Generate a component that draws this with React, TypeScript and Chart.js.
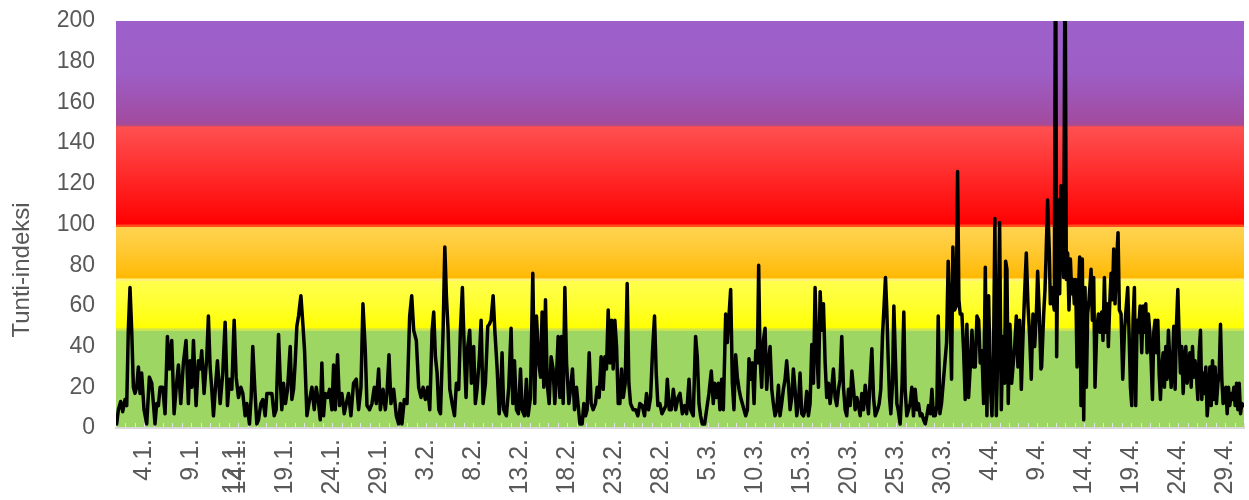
import React, { useEffect, useRef } from "react";
import { Chart, registerables } from "chart.js";

Chart.register(...registerables);

// Time of each sample, in days after 1.1. 00:00
const dayOffsets: number[] = [
  0.07, 0.25, 0.5, 0.71, 0.96, 1.14, 1.31, 1.49, 1.67, 1.85, 2.02, 2.2, 2.38, 2.56, 2.73, 2.98, 3.27, 3.55, 3.8, 3.98,
  4.15, 4.33, 4.51, 4.69, 4.97, 5.22, 5.47, 5.68, 5.93, 6.18, 6.39, 6.64, 6.89, 7.17, 7.45, 7.7, 7.88, 8.06, 8.24, 8.52,
  8.77, 8.95, 9.12, 9.37, 9.66, 9.83, 10.01, 10.19, 10.37, 10.58, 10.79, 11.08, 11.36, 11.61, 11.86, 12.07, 12.32, 12.57, 12.78, 13.03,
  13.28, 13.49, 13.74, 13.92, 14.2, 14.38, 14.55, 14.77, 14.98, 15.16, 15.41, 15.62, 15.87, 16.05, 16.33, 16.58, 16.83, 17.04, 17.29, 17.47,
  17.64, 17.82, 18.03, 18.25, 18.53, 18.71, 18.89, 19.06, 19.24, 19.42, 19.67, 19.88, 20.06, 20.31, 20.52,
  20.84, 21.09, 21.3, 21.55, 21.73, 21.9, 22.08, 22.26, 22.51, 22.72, 22.97, 23.15, 23.32, 23.57, 23.78, 24.03, 24.28, 24.49, 24.74, 24.99,
  25.27, 25.56, 25.81, 26.06, 26.27, 26.52, 26.7, 26.98, 27.23, 27.48, 27.69, 27.94, 28.12, 28.41, 28.65, 28.83, 29.04, 29.25, 29.54, 29.82,
  30.07, 30.25, 30.42, 30.67, 30.96, 31.24, 31.46, 31.67, 31.95, 32.2, 32.45, 32.67, 32.91, 33.16, 33.38, 33.63, 33.8, 33.98, 34.16, 34.34,
  34.52, 34.8, 34.98, 35.15, 35.33, 35.51, 35.76, 36.01, 36.21, 36.46, 36.64, 36.85, 37.07, 37.24, 37.42, 37.63, 37.81, 38.05, 38.23, 38.41,
  38.66, 38.84, 39.05, 39.3, 39.55, 39.72, 39.9, 40.12, 40.3, 40.55, 40.76,
  40.9, 41.07, 41.25, 41.53, 41.78, 42.03, 42.21, 42.39, 42.6, 42.81, 43.03, 43.2, 43.45, 43.66, 43.84, 44.09, 44.34, 44.55, 44.73, 44.98,
  45.16, 45.33, 45.51, 45.69, 45.87, 46.08, 46.29, 46.5, 46.68, 46.86, 47.04, 47.22, 47.39, 47.57, 47.75, 47.93, 48.18, 48.35, 48.56, 48.78,
  48.99, 49.17, 49.35, 49.59, 49.77, 49.95, 50.12, 50.34, 50.55, 50.76, 51.01, 51.19, 51.4, 51.61, 51.83, 52.01, 52.18, 52.36, 52.54, 52.72,
  52.89, 53.07, 53.25, 53.43, 53.6, 53.78, 53.96, 54.17, 54.38, 54.56, 54.74, 55.02, 55.27, 55.52, 55.73, 55.98, 56.23, 56.44, 56.66, 56.87,
  57.08, 57.29, 57.47, 57.65, 57.86, 58.08, 58.29, 58.5, 58.65, 58.86, 59.07, 59.29, 59.54, 59.79, 60.0, 60.25, 60.5, 60.71, 60.96,
  61.13, 61.41, 61.66, 61.84, 62.02, 62.19, 62.37, 62.62, 62.83, 63.08, 63.33, 63.54, 63.68, 63.9, 64.07, 64.25, 64.43, 64.61, 64.86, 65.03,
  65.21, 65.39, 65.57, 65.74, 65.92, 66.1, 66.28, 66.45, 66.63, 66.81, 66.99, 67.17, 67.34, 67.52, 67.7, 67.88, 68.06, 68.23, 68.37, 68.51,
  68.69, 68.87, 69.05, 69.22, 69.4, 69.58, 69.76, 69.93, 70.11, 70.29, 70.47, 70.64, 70.82, 71.0, 71.18, 71.35, 71.53, 71.71, 71.89, 72.06,
  72.24, 72.42, 72.6, 72.77, 72.95, 73.13, 73.31, 73.48, 73.66, 73.84, 74.02, 74.2, 74.37, 74.55, 74.73, 74.91, 75.08, 75.26, 75.44, 75.61,
  75.79, 75.97, 76.15, 76.32, 76.5, 76.68, 76.86, 77.03, 77.21, 77.39, 77.57, 77.74, 77.92, 78.1, 78.28, 78.46, 78.63, 78.81, 78.99, 79.17,
  79.34, 79.52, 79.7, 79.88, 80.05, 80.23, 80.41, 80.59, 80.77, 81.02, 81.19,
  81.36, 81.54, 81.72, 81.86, 82.0, 82.14, 82.29, 82.43, 82.61, 82.75, 82.89, 83.07, 83.21, 83.42, 83.63, 83.81, 83.95, 84.13, 84.31, 84.49,
  84.66, 84.84, 85.02, 85.2, 85.37, 85.55, 85.73, 85.91, 86.09, 86.26, 86.44, 86.62, 86.8, 86.97, 87.15, 87.33, 87.47, 87.65, 87.82, 88.0,
  88.18, 88.36, 88.53, 88.71, 88.89, 89.03, 89.21, 89.39, 89.53, 89.67, 89.81, 89.99, 90.17, 90.34, 90.52, 90.7, 90.88, 91.06, 91.23, 91.41,
  91.59, 91.77, 91.94, 92.12, 92.3, 92.48, 92.65, 92.83, 93.01, 93.19, 93.36, 93.5, 93.65, 93.82, 94.0, 94.18, 94.36, 94.53, 94.64, 94.78,
  94.92, 95.1, 95.28, 95.46, 95.63, 95.78, 95.95, 96.13, 96.31, 96.49, 96.66, 96.84, 97.02, 97.2, 97.37, 97.55, 97.73, 97.91, 98.05, 98.23,
  98.4,
  98.47, 98.69, 98.83, 98.94, 99.11, 99.29, 99.4, 99.54, 99.68, 99.82, 99.96, 100.07, 100.25, 100.39, 100.53, 100.67, 100.82, 100.96, 101.1, 101.24,
  101.38, 101.53, 101.67, 101.81, 101.95, 102.09, 102.24, 102.38, 102.52, 102.66, 102.8, 102.95, 103.09, 103.23, 103.37, 103.51, 103.73, 103.87, 104.01, 104.15,
  104.33, 104.51, 104.69, 104.86, 105.0, 105.15, 105.29, 105.43, 105.57, 105.71, 105.86, 106.0, 106.14, 106.28, 106.42, 106.6, 106.74, 106.92, 107.1, 107.28,
  107.45, 107.63, 107.77, 107.92, 108.06, 108.2, 108.34, 108.48, 108.63, 108.77, 108.95, 109.12, 109.27, 109.41, 109.55, 109.69, 109.83, 109.98, 110.12, 110.26,
  110.4, 110.54, 110.69, 110.83, 110.97, 111.11, 111.25, 111.4, 111.54, 111.68, 111.82, 111.96, 112.11, 112.25, 112.39, 112.53, 112.67, 112.82, 112.96, 113.1,
  113.24, 113.38, 113.53, 113.67, 113.81, 113.95, 114.09, 114.24, 114.38, 114.52, 114.66, 114.8, 114.95, 115.09, 115.23, 115.37, 115.51, 115.66, 115.8, 115.94,
  116.08, 116.22, 116.37, 116.51, 116.65, 116.79, 116.93, 117.07, 117.22, 117.36, 117.5, 117.64, 117.78, 117.93, 118.07, 118.21, 118.35, 118.49, 118.64, 118.78,
  118.92, 119.06, 119.21, 119.35, 119.49, 119.63, 119.77, 119.98,
];

// Tunti-indeksi value of each sample
const tuntiIndeksi: number[] = [
  2, 9, 13, 8, 14, 11, 48, 69, 48, 20, 17, 20, 30, 17, 27, 9, 2, 25, 22, 12,
  2, 12, 11, 20, 20, 7, 45, 29, 43, 7, 19, 31, 12, 32, 43, 12, 33, 20, 43, 11,
  33, 29, 38, 17, 35, 55, 30, 19, 6, 20, 33, 12, 27, 52, 11, 24, 19, 53, 25, 15,
  20, 17, 6, 12, 2, 15, 40, 19, 2, 4, 12, 14, 6, 17, 17, 17, 6, 9, 46, 24,
  9, 22, 12, 19, 40, 14, 19, 32, 50, 55, 65, 51, 38, 6, 12,
  20, 9, 20, 12, 4, 32, 6, 17, 15, 19, 9, 31, 9, 36, 11, 17, 7, 12, 17, 6,
  22, 24, 9, 20, 61, 38, 11, 9, 12, 20, 12, 29, 9, 19, 9, 17, 36, 12, 19, 6,
  2, 12, 2, 14, 12, 55, 65, 48, 43, 20, 15, 20, 14, 20, 9, 48, 57, 35, 27, 9,
  7, 48, 89, 65, 48, 19, 12, 6, 22, 19, 48, 69, 35, 15, 40, 48, 22, 40, 12, 19,
  35, 53, 12, 22, 50, 51, 53, 65, 48, 29, 7,
  14, 37, 9, 6, 20, 49, 12, 33, 9, 7, 29, 9, 6, 24, 6, 15, 76, 12, 55, 32,
  25, 57, 20, 63, 22, 12, 35, 29, 12, 25, 45, 15, 45, 12, 69, 32, 12, 19, 29, 9,
  20, 11, 2, 2, 12, 6, 9, 37, 12, 9, 12, 20, 15, 35, 19, 35, 29, 58, 32, 53,
  29, 53, 40, 12, 12, 29, 15, 22, 71, 22, 12, 9, 9, 6, 12, 11, 6, 17, 9, 15,
  38, 55, 27, 11, 12, 7, 9, 11, 24, 9, 9, 19, 9, 15, 17, 7, 11, 7, 24,
  9, 6, 45, 35, 12, 6, 2, 2, 9, 17, 28, 12, 22, 15, 22, 9, 24, 9, 56, 42,
  55, 68, 22, 9, 36, 25, 19, 15, 12, 9, 6, 9, 34, 24, 32, 12, 38, 32, 80, 35,
  20, 43, 49, 19, 32, 40, 19, 12, 6, 9, 21, 6, 12, 19, 24, 33, 22, 9, 15, 29,
  19, 6, 12, 27, 7, 6, 9, 18, 6, 12, 41, 22, 69, 38, 20, 67, 48, 61, 32, 15,
  22, 12, 20, 29, 15, 11, 19, 24, 45, 20, 9, 6, 19, 11, 28, 19, 9, 15, 11, 6,
  17, 9, 21, 14, 7, 24, 39, 15, 6, 9, 12,
  19, 45, 61, 74, 58, 35, 15, 7, 22, 60, 38, 12, 9, 2, 22, 57, 19, 6, 9, 12,
  20, 6, 19, 9, 12, 6, 7, 4, 2, 6, 11, 7, 19, 6, 6, 11, 55, 7, 12, 22,
  32, 42, 82, 58, 24, 89, 58, 60, 126, 63, 56, 56, 38, 14, 51, 15, 30, 48, 30, 30,
  55, 53, 32, 38, 12, 79, 6, 65, 22, 6, 38, 103, 6, 38, 101, 9, 45, 22, 82, 78,
  12, 51, 22, 32, 42, 55, 30, 53, 19, 45, 66, 86, 60, 45, 24, 56, 40, 56, 77, 55,
  29,
  30, 56, 68, 84, 112, 86, 61, 69, 63, 58, 260, 35, 112, 66, 119, 88, 74, 240, 73, 86,
  58, 83, 66, 73, 61, 73, 30, 66, 84, 11, 83, 4, 69, 20, 56, 63, 78, 53, 74, 20,
  48, 56, 47, 57, 43, 74, 47, 61, 40, 60, 76, 63, 88, 61, 79, 96, 58, 56, 24, 47,
  58, 69, 47, 20, 11, 53, 69, 11, 53, 47, 60, 37, 60, 47, 61, 37, 56, 47, 33, 14,
  47, 53, 37, 53, 27, 14, 30, 37, 20, 40, 24, 48, 33, 20, 30, 50, 19, 51, 68, 45,
  27, 40, 17, 33, 40, 22, 30, 37, 20, 40, 25, 33, 25, 14, 37, 48, 14, 27, 17, 30,
  6, 14, 30, 11, 33, 14, 30, 12, 22, 27, 51, 24, 12, 14, 20, 7, 20, 11, 17, 14,
  20, 11, 22, 9, 22, 7, 12, 11,
];

const xTickDays: number[] = [3, 8, 12.5, 13, 18, 23, 28, 33, 38, 43, 48, 53, 58, 63, 68, 73, 78, 83, 88, 93, 98, 103, 108, 113, 118];
const xTickLabels: string[] = [
  "4.1.", "9.1.", "12.1.", "14.1.", "19.1.", "24.1.", "29.1.", "3.2.", "8.2.", "13.2.", "18.2.", "23.2.", "28.2.",
  "5.3.", "10.3.", "15.3.", "20.3.", "25.3.", "30.3.", "4.4.", "9.4.", "14.4.", "19.4.", "24.4.", "29.4.",
];
const yAxisTitle = "Tunti-indeksi";

// Background class limits (index value) and colours
const bandLimits: number[] = [0, 48.5, 73, 99.5, 149, 200];
const bandTopColors: string[] = ["#9dd663", "#ffff50", "#ffd452", "#ff5252", "#9d60ca"];
const bandMidColors: string[] = ["#9dd663", "#ffff30", "#ffc830", "#ff2a2a", "#9d5ec6"];
const bandBottomColors: string[] = ["#9dd663", "#ffff00", "#ffb800", "#ff0000", "#a24a9e"];
const bandEdgeColors: string[] = ["#d2e64a", "#fff27a", "#ff4d1e", "#b04c8a"];

const FONT = "'Liberation Sans', Arial, sans-serif";
const TEXT = "#595959";

const bandsPlugin = {
  id: "bands",
  beforeDraw(chart: any) {
    const { ctx, chartArea: a, scales } = chart;
    const y = scales.y;
    const x = scales.x;
    ctx.save();
    for (let i = 0; i < bandTopColors.length; i++) {
      const yTop = y.getPixelForValue(bandLimits[i + 1]);
      const yBot = y.getPixelForValue(bandLimits[i]);
      const g = ctx.createLinearGradient(0, yTop, 0, yBot);
      g.addColorStop(0, bandTopColors[i]);
      g.addColorStop(0.5, bandMidColors[i]);
      g.addColorStop(1, bandBottomColors[i]);
      ctx.fillStyle = g;
      ctx.fillRect(a.left, yTop, a.right - a.left, yBot - yTop);
    }
    for (let i = 0; i < bandEdgeColors.length; i++) {
      const yb = y.getPixelForValue(bandLimits[i + 1]);
      ctx.fillStyle = bandEdgeColors[i];
      ctx.fillRect(a.left, yb - 1, a.right - a.left, 2.5);
    }
    // daily tick marks inside the plot
    ctx.strokeStyle = "#e3e3e3";
    ctx.lineWidth = 1;
    for (let d = 0; d <= 120; d++) {
      const px = Math.round(x.getPixelForValue(d)) + 0.5;
      ctx.beginPath();
      ctx.moveTo(px, a.bottom);
      ctx.lineTo(px, a.bottom - 5);
      ctx.stroke();
    }
    // y axis title
    ctx.fillStyle = TEXT;
    ctx.font = `24px ${FONT}`;
    ctx.textAlign = "center";
    ctx.textBaseline = "middle";
    ctx.translate(22, 270);
    ctx.rotate(-Math.PI / 2);
    ctx.fillText(yAxisTitle, 0, 0);
    ctx.restore();
  },
};

export default function App() {
  const ref = useRef<HTMLCanvasElement | null>(null);
  useEffect(() => {
    document.body.style.margin = "0";
    const canvas = ref.current!;
    const chart = new Chart(canvas, {
      type: "line",
      data: {
        datasets: [
          {
            data: dayOffsets.map((d, i) => ({ x: d, y: tuntiIndeksi[i] })),
            borderColor: "#000000",
            borderWidth: 3.5,
            pointRadius: 0,
            tension: 0,
            borderJoinStyle: "round",
            borderCapStyle: "round",
          },
        ],
      },
      options: {
        animation: false,
        responsive: false,
        layout: { padding: { top: 21, right: 5, left: 0, bottom: 0 } },
        plugins: { legend: { display: false }, tooltip: { enabled: false } },
        scales: {
          x: {
            type: "linear",
            min: 0,
            max: 120,
            afterBuildTicks: (s: any) => {
              s.ticks = xTickDays.map((v) => ({ value: v }));
            },
            afterFit: (s: any) => {
              s.height = 72;
              s.paddingLeft = 0;
              s.paddingRight = 0;
            },
            ticks: {
              autoSkip: false,
              maxRotation: 90,
              minRotation: 90,
              padding: 11,
              color: TEXT,
              font: { family: FONT, size: 25 },
              callback: (_v: any, i: number) => xTickLabels[i],
            },
            grid: { display: false, drawTicks: false },
            border: { display: true, color: "#d9d9d9", width: 2 },
          },
          y: {
            min: 0,
            max: 200,
            afterFit: (s: any) => {
              s.width = 116;
              s.paddingTop = 0;
              s.paddingBottom = 0;
            },
            ticks: {
              stepSize: 20,
              padding: 21,
              color: TEXT,
              font: { family: FONT, size: 23 },
            },
            grid: { display: false, drawTicks: false },
            border: { display: false },
          },
        },
      },
      plugins: [bandsPlugin],
    } as any);
    return () => chart.destroy();
  }, []);
  return (
    <div style={{ width: 1249, height: 500 }}>
      <canvas ref={ref} width={1249} height={500} style={{ display: "block", width: 1249, height: 500 }} />
    </div>
  );
}
